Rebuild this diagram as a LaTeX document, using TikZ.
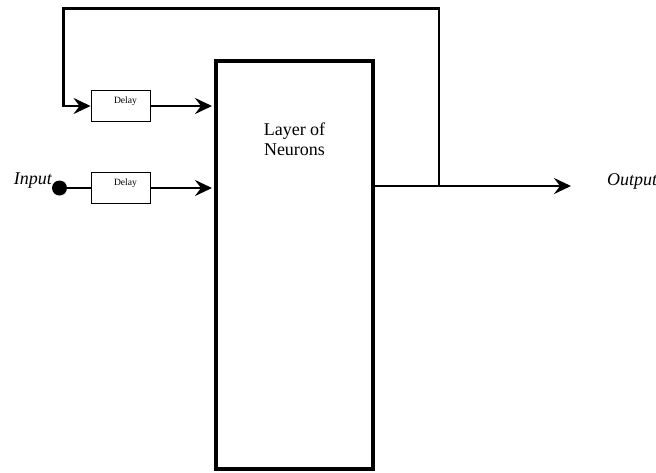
\documentclass[tikz,border=0pt]{standalone}
\usepackage{fontspec}
\setmainfont{Liberation Serif}
\usetikzlibrary{arrows.meta}

\begin{document}
\begin{tikzpicture}[x=1pt, y=-1pt,
    wire/.style={line width=2.6pt},
    arr/.style={wire, -{Stealth[length=17pt, width=16pt, inset=6pt]}},
    delaybox/.style={draw, line width=1.3pt, minimum width=59pt, minimum height=31pt, inner sep=0pt},
    lbl/.style={font=\fontsize{18}{20}\selectfont\itshape}]
    \useasboundingbox (0,0) rectangle (656,472);
    \node[draw, line width=4pt, minimum width=157pt, minimum height=408pt, inner sep=0pt] (layer) at (294.5,265) {};
    \node[align=center, font=\fontsize{18}{20}\selectfont] (layertxt) at (294.5,139) {Layer of\\Neurons};
    \node[delaybox] (d1) at (120.7,106) {};
    \node[delaybox] (d2) at (120.7,188) {};
    \node[font=\fontsize{9.6}{11}\selectfont, anchor=base] (d1txt) at (125.5,103) {Delay};
    \node[font=\fontsize{9.6}{11}\selectfont, anchor=base] (d2txt) at (125.5,185) {Delay};
    \node[circle, fill, inner sep=0pt, minimum size=15pt] (in) at (59.5,188) {};
    \node[lbl, anchor=base east, inner sep=0pt] (intxt) at (52,184) {Input};
    \node[lbl, anchor=base west, inner sep=0pt] (outtxt) at (607,185) {Output};
    \coordinate (tap) at (439,186);
    \coordinate (outend) at (571,186);
    \coordinate (topL) at (63.3,8.7);
    \draw[wire] (in) -- (d2.west);
    \draw[arr, shorten >=2pt] (d1.east) -- (layer.west |- d1.east);
    \draw[arr, shorten >=2pt] (d2.east) -- (layer.west |- d2.east);
    \draw[arr] (layer.east |- tap) -- (outend);
    \draw[arr] (tap) |- (topL) |- (d1.west);
\end{tikzpicture}
\end{document}
